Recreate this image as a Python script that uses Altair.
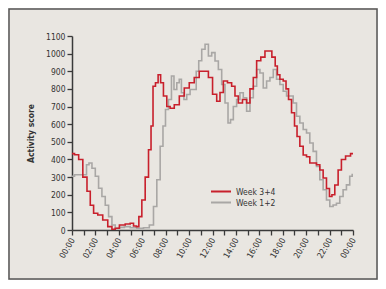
import altair as alt
import pandas as pd

# Week 3+4 (red)
red_hours = [0.00,0.43,0.71,1.14,1.42,1.70,1.99,2.41,2.84,3.27,
             3.55,3.84,4.26,4.83,5.11,5.40,5.60,5.82,6.11,6.39,
             6.68,6.82,7.02,7.24,7.47,7.67,7.95,8.24,8.52,8.95,
             9.38,9.80,10.23,10.65,11.08,11.51,11.79,12.22,12.50,12.78,
             13.07,13.49,13.78,14.06,14.35,14.77,15.06,15.34,15.63,15.91,
             16.34,16.62,16.90,17.24,17.47,17.61,17.90,18.18,18.38,18.61,
             18.89,19.12,19.32,19.60,19.89,20.17,20.45,20.74,21.02,21.31,
             21.59,21.88,22.10,22.30,22.59,22.87,23.15,23.58,24.00]
red_vals = [433,427,400,300,220,140,95,85,57,19,
            4,10,28,34,38,23,19,76,170,300,
            455,590,815,835,880,835,760,700,690,710,
            760,805,835,865,900,900,865,770,730,780,
            845,835,815,760,720,740,720,800,865,960,
            980,1015,1015,980,930,880,855,845,800,740,
            665,590,530,475,425,415,380,380,370,340,
            295,235,190,200,255,340,400,420,433]

# Week 1+2 (grey)
grey_hours = [0.00,0.43,0.85,1.14,1.34,1.56,1.85,2.13,2.41,2.70,
              2.98,3.27,3.55,3.84,4.26,4.69,5.26,5.82,6.39,6.82,
              7.10,7.39,7.67,7.87,8.10,8.38,8.61,8.81,9.09,9.23,
              9.46,9.66,9.94,10.23,10.51,10.71,10.94,11.22,11.51,11.79,
              12.07,12.36,12.64,12.93,13.21,13.44,13.64,13.92,14.20,14.49,
              14.77,15.06,15.34,15.63,15.91,16.19,16.48,16.76,17.05,17.33,
              17.61,17.90,18.18,18.47,18.75,19.03,19.32,19.60,19.89,20.17,
              20.45,20.74,21.02,21.31,21.59,21.88,22.16,22.44,22.73,23.01,
              23.30,23.58,23.86,24.00]
grey_vals = [305,313,313,313,370,380,350,305,237,190,
             140,76,28,10,15,19,13,10,13,28,
             133,285,475,590,683,740,873,797,835,855,
             778,740,768,797,797,900,960,1025,1053,987,
             1006,958,910,825,720,607,626,700,740,778,
             750,673,750,815,910,890,805,845,865,910,
             855,825,787,760,760,720,645,607,570,550,
             493,446,360,285,228,170,133,142,152,190,
             228,256,305,315]

series_names = ["Week 3+4", "Week 1+2"]
series_colors = ["#c8202c", "#a9a7a5"]
hour_ticks = list(range(0, 25))
y_ticks = list(range(0, 1101, 100))

df = pd.concat([
    pd.DataFrame({"hour": grey_hours, "score": grey_vals, "series": series_names[1]}),
    pd.DataFrame({"hour": red_hours, "score": red_vals, "series": series_names[0]}),
], ignore_index=True)

FONT = "Liberation Sans Narrow, DejaVu Sans Condensed, Liberation Sans, sans-serif"
W, H = 281, 194
PL, PT, PR, PB = 64, 28, 25, 50

border = alt.Chart(pd.DataFrame({"a": [0]})).mark_rect(
    fill=None, stroke="#555555", strokeWidth=1.5
).encode(
    x=alt.value(-PL + 1), x2=alt.value(W + PR - 1),
    y=alt.value(-PT + 1), y2=alt.value(H + PB - 1),
)

lines = alt.Chart(df).mark_line(strokeWidth=1.6, interpolate="step").encode(
    x=alt.X("hour:Q",
            scale=alt.Scale(domain=[0, 24], nice=False, zero=False),
            axis=alt.Axis(values=hour_ticks, title=None, grid=False,
                          labelExpr="datum.value % 2 == 0 ? ((datum.value % 24) < 10 ? '0' : '') + (datum.value % 24) + ':00' : ''",
                          labelAngle=-60, labelAlign="right", labelBaseline="middle",
                          labelFontSize=8.5, labelPadding=3, tickSize=5,
                          labelOverlap=False, labelFlush=False)),
    y=alt.Y("score:Q",
            scale=alt.Scale(domain=[0, 1100], nice=False),
            axis=alt.Axis(values=y_ticks, title="Activity score", grid=False, format="d",
                          labelFontSize=8.5, tickSize=5, labelPadding=2,
                          titleFontSize=8.5, titleFontWeight="bold", titlePadding=10)),
    color=alt.Color("series:N",
                    scale=alt.Scale(domain=series_names, range=series_colors),
                    sort=series_names,
                    legend=alt.Legend(title=None, orient="none", legendX=138, legendY=150,
                                      symbolType="stroke", symbolSize=400,
                                      symbolStrokeWidth=2, labelFontSize=8.5,
                                      clipHeight=11, rowPadding=0, labelOffset=4)),
    detail="series:N",
)

chart = alt.layer(border, lines).properties(
    width=W, height=H,
    autosize=alt.AutoSizeParams(type="none"),
    padding={"left": PL, "top": PT, "right": PR, "bottom": PB},
    background="#e9e6e1",
).configure_view(stroke=None).configure_axis(
    domainColor="#3a3a3a", domainWidth=1.5, tickColor="#3a3a3a", tickWidth=1.3,
    labelColor="#333333", titleColor="#333333", labelFont=FONT, titleFont=FONT,
).configure_legend(labelFont=FONT, labelColor="#333333")

chart.save("out.html", embed_options={"renderer": "svg", "actions": False})
